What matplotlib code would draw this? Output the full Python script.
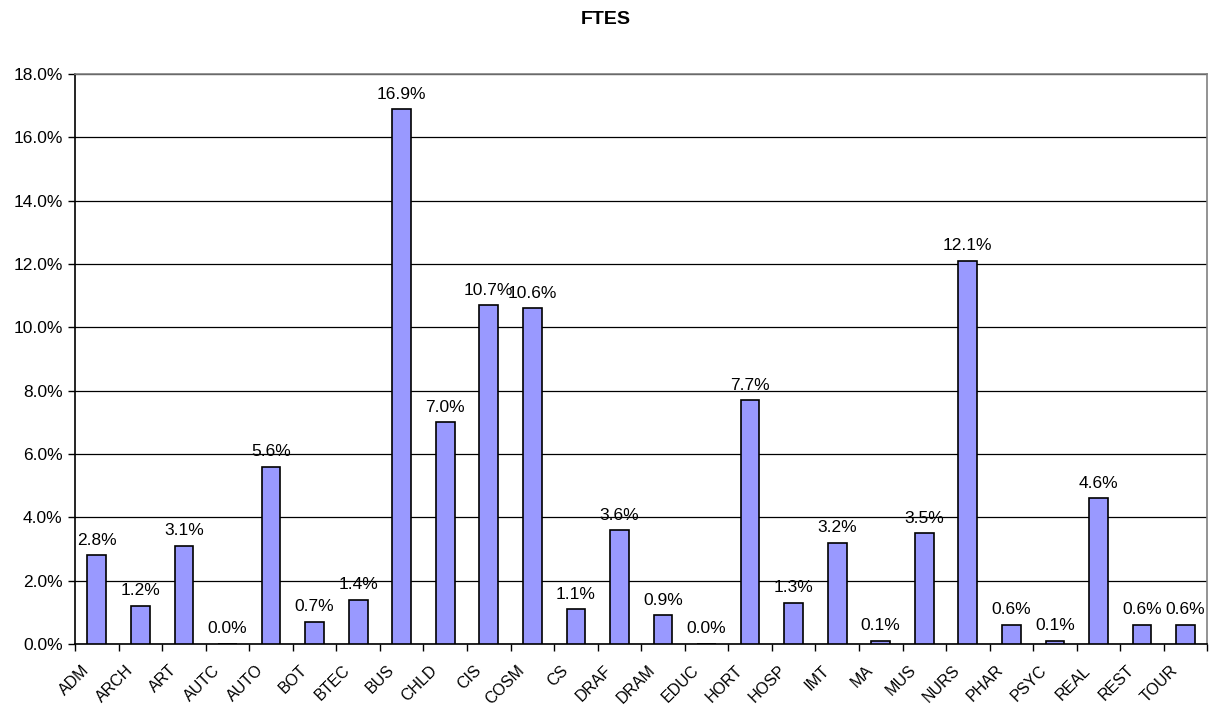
import matplotlib.pyplot as plt
import numpy as np
from matplotlib.ticker import FuncFormatter, FixedLocator, NullFormatter

plt.rcParams['font.family'] = ['Liberation Sans', 'DejaVu Sans']

# Share of FTES by program (percent)
programs = ['ADM', 'ARCH', 'ART', 'AUTC', 'AUTO', 'BOT', 'BTEC', 'BUS', 'CHLD',
            'CIS', 'COSM', 'CS', 'DRAF', 'DRAM', 'EDUC', 'HORT', 'HOSP', 'IMT',
            'MA', 'MUS', 'NURS', 'PHAR', 'PSYC', 'REAL', 'REST', 'TOUR']
ftes_pct = [2.8, 1.2, 3.1, 0.0, 5.6, 0.7, 1.4, 16.9, 7.0,
            10.7, 10.6, 1.1, 3.6, 0.9, 0.0, 7.7, 1.3, 3.2,
            0.1, 3.5, 12.1, 0.6, 0.1, 4.6, 0.6, 0.6]

fig = plt.figure(figsize=(12.11, 7.06), dpi=100)
ax = fig.add_axes([0.062, 0.088, 0.935, 0.807])

x = np.arange(len(programs))
ax.bar(x, ftes_pct, width=0.43, color='#9999FF', edgecolor='black',
       linewidth=1.2, zorder=3)

# value labels above each bar
for xi, v in zip(x, ftes_pct):
    ax.annotate(f'{v:.1f}%', (xi, v), xytext=(0, 7.5), textcoords='offset points',
                ha='center', va='baseline', fontsize=12.5)

ax.set_xlim(-0.5, len(programs) - 0.5)
ax.set_ylim(0, 18)
ax.set_yticks(np.arange(0, 18.1, 2))
ax.yaxis.set_major_formatter(FuncFormatter(lambda v, p: f'{v:.1f}%'))
ax.yaxis.grid(True, color='black', linewidth=0.9, zorder=0)

# tick marks sit between categories; names are drawn slanted below
ax.set_xticks(x)
ax.xaxis.set_major_formatter(NullFormatter())
ax.tick_params(axis='x', which='major', length=0)
ax.xaxis.set_minor_locator(FixedLocator(np.arange(-0.5, len(programs), 1)))
ax.tick_params(axis='x', which='minor', length=5, width=1, color='black')
ax.tick_params(axis='y', length=5, width=1, labelsize=12.5, pad=4)

for xi, name in zip(x, programs):
    ax.annotate(name, (xi, 0), xycoords=('data', 'axes fraction'),
                xytext=(-3.5, -13.5), textcoords='offset points',
                rotation=45, ha='right', va='top', fontsize=11.5)

for side in ['top', 'right']:
    ax.spines[side].set_color('#808080')
    ax.spines[side].set_linewidth(1.2)
for side in ['left', 'bottom']:
    ax.spines[side].set_color('black')
    ax.spines[side].set_linewidth(1.2)

fig.suptitle('FTES', fontsize=14, fontweight='bold', y=0.985)

fig.savefig('out.png', dpi=100)
